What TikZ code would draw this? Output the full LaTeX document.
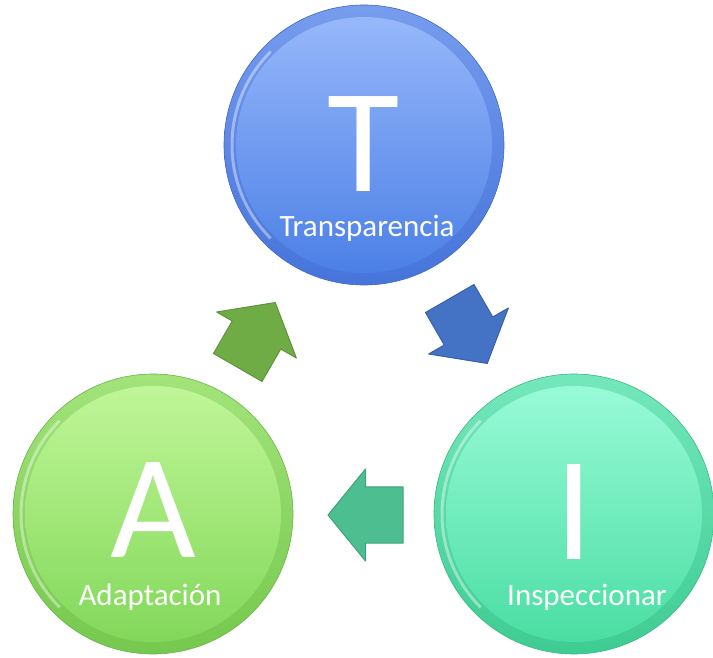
\documentclass[tikz,border=0pt]{standalone}
\usepackage{fontspec}
\setmainfont{Carlito}
\usepackage{tikz}
\usetikzlibrary{calc}

\definecolor{tTop}{RGB}{150,183,250}
\definecolor{tBot}{RGB}{76,128,230}
\definecolor{tRing}{RGB}{70,116,218}
\definecolor{aTop}{RGB}{192,246,152}
\definecolor{aBot}{RGB}{130,216,90}
\definecolor{aRing}{RGB}{118,200,78}
\definecolor{iTop}{RGB}{152,250,216}
\definecolor{iBot}{RGB}{74,222,162}
\definecolor{iRing}{RGB}{62,204,146}
\definecolor{greenArrow}{RGB}{112,172,70}
\definecolor{blueArrow}{RGB}{68,114,196}
\definecolor{tealArrow}{RGB}{76,190,143}

\begin{document}
\begin{tikzpicture}[x=1pt,y=1pt]

  \tikzstyle{button}=[circle,minimum size=280pt,inner sep=0pt,line width=0.6pt]
  \tikzstyle{letter}=[anchor=base,inner sep=0pt,text depth=0pt,text=white,font=\fontsize{148}{150}\selectfont]
  \tikzstyle{caption}=[anchor=base,inner sep=1pt,text=white,font=\fontsize{31}{34}\selectfont]
  \tikzstyle{block}=[line width=1pt,line join=round]
  \tikzstyle{shine}=[white,opacity=.4,line width=3pt]

  \useasboundingbox (0,0) rectangle (713,657);

  % Transparencia
  \node[button,top color=tRing!40!tTop,bottom color=tRing,draw=tRing!90!black] (T) at (364,512) {};
  \shade[top color=tTop,bottom color=tBot] (T.center) circle (128pt);
  \draw[shine] (T.center) ++(135:132pt) arc (135:225:132pt);
  \node[letter] (Tl) at ($(T.center)+(0,-47)$) {T};
  \node[caption] (Tc) at ($(T.center)+(3,-92)$) {Transparencia};

  % Adaptacion
  \node[button,top color=aRing!40!aTop,bottom color=aRing,draw=aRing!90!black] (A) at (153,143) {};
  \shade[top color=aTop,bottom color=aBot] (A.center) circle (128pt);
  \draw[shine] (A.center) ++(135:132pt) arc (135:225:132pt);
  \node[letter] (Al) at ($(A.center)+(0,-43)$) {A};
  \node[caption] (Ac) at ($(A.center)+(-3,-91)$) {Adaptación};

  % Inspeccionar
  \node[button,top color=iRing!40!iTop,bottom color=iRing,draw=iRing!90!black] (I) at (574,143) {};
  \shade[top color=iTop,bottom color=iBot] (I.center) circle (128pt);
  \draw[shine] (I.center) ++(135:132pt) arc (135:225:132pt);
  \node[letter] (Il) at ($(I.center)+(0,-45)$) {I};
  \node[caption] (Ic) at ($(I.center)+(13,-91)$) {Inspeccionar};

  % block arrows
  \fill[block,fill=greenArrow,draw=greenArrow!85!black,shift={(256.5,322)},rotate=60]
    (-37.5,-28) -- (0,-28) -- (0,-46) -- (37.5,0) -- (0,46) -- (0,28) -- (-37.5,28) -- cycle;
  \fill[block,fill=blueArrow,draw=blueArrow!85!black,shift={(468.5,326)},rotate=-60]
    (-37.5,-28) -- (0,-28) -- (0,-46) -- (37.5,0) -- (0,46) -- (0,28) -- (-37.5,28) -- cycle;
  \fill[block,fill=tealArrow,draw=tealArrow!85!black,shift={(365.5,142)},rotate=180]
    (-37.5,-28) -- (0,-28) -- (0,-46) -- (37.5,0) -- (0,46) -- (0,28) -- (-37.5,28) -- cycle;

\end{tikzpicture}
\end{document}
